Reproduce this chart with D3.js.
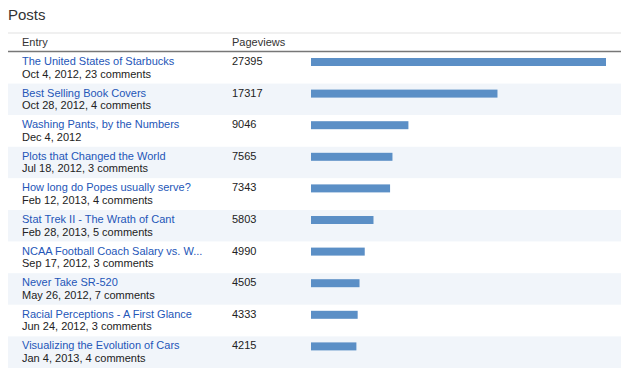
<!DOCTYPE html>
<html>
<head>
<meta charset="utf-8">
<script src="https://cdn.jsdelivr.net/npm/d3@7"></script>
<style>
  body { margin: 0; background: #fff; font-family: "Liberation Sans", Arial, sans-serif; }
  svg text { font-family: "Liberation Sans", Arial, sans-serif; }
</style>
</head>
<body>
<svg id="chart" width="640" height="373"></svg>
<script>
// post data
var titles = [
  "The United States of Starbucks",
  "Best Selling Book Covers",
  "Washing Pants, by the Numbers",
  "Plots that Changed the World",
  "How long do Popes usually serve?",
  "Stat Trek II - The Wrath of Cant",
  "NCAA Football Coach Salary vs. W...",
  "Never Take SR-520",
  "Racial Perceptions - A First Glance",
  "Visualizing the Evolution of Cars"
];
var dates = [
  "Oct 4, 2012", "Oct 28, 2012", "Dec 4, 2012", "Jul 18, 2012", "Feb 12, 2013",
  "Feb 28, 2013", "Sep 17, 2012", "May 26, 2012", "Jun 24, 2012", "Jan 4, 2013"
];
var comments = [23, 4, 0, 3, 4, 5, 3, 7, 3, 4];
var pageviews = [27395, 17317, 9046, 7565, 7343, 5803, 4990, 4505, 4333, 4215];
var headers = ["Entry", "Pageviews"];

var rows = titles.map(function(t, i) {
  return { title: t, date: dates[i], comments: comments[i], views: pageviews[i] };
});

var svg = d3.select("#chart");
var left = 8, right = 621;
var top0 = 52;   // first row top
var rowH = 31.6;

var x = d3.scaleLinear()
  .domain([0, d3.max(pageviews)])
  .range([311, 606]);

var y = d3.scaleBand()
  .domain(d3.range(rows.length))
  .range([top0, top0 + rowH * rows.length])
  .paddingInner(0).paddingOuter(0);

// title
svg.append("text")
  .attr("x", 8).attr("y", 20)
  .style("font-size", "15px")
  .style("fill", "#333")
  .text("Posts");

// header band
svg.append("rect")
  .attr("x", left).attr("y", 32)
  .attr("width", right - left).attr("height", 2)
  .style("fill", "#f0f0f0");

svg.append("text")
  .attr("x", 22).attr("y", 46)
  .style("font-size", "11px").style("fill", "#333")
  .text(headers[0]);
svg.append("text")
  .attr("x", 232).attr("y", 46)
  .style("font-size", "11px").style("fill", "#333")
  .text(headers[1]);

var row = svg.selectAll("g.row")
  .data(rows)
  .enter().append("g")
  .attr("class", "row")
  .attr("transform", function(d, i) { return "translate(0," + y(i) + ")"; });

// zebra stripes
row.append("rect")
  .attr("x", left)
  .attr("width", right - left)
  .attr("height", y.bandwidth())
  .style("fill", function(d, i) { return i % 2 ? "#f1f5fa" : "#fff"; });

row.append("text")
  .attr("x", 22).attr("y", 13)
  .style("font-size", "11px").style("fill", "#2456b8")
  .text(function(d) { return d.title; });

row.append("text")
  .attr("x", 22).attr("y", 25.5)
  .style("font-size", "11px").style("fill", "#222")
  .text(function(d) {
    return d.comments ? d.date + ", " + d.comments + " comments" : d.date;
  });

row.append("text")
  .attr("x", 232).attr("y", 13)
  .style("font-size", "11px").style("fill", "#222")
  .text(function(d) { return d.views; });

row.append("rect")
  .attr("x", x(0))
  .attr("y", 6)
  .attr("height", 8)
  .attr("width", function(d) { return x(d.views) - x(0); })
  .style("fill", "#5b8fc6");

// header separator on top
svg.append("line")
  .attr("x1", left).attr("x2", right)
  .attr("y1", 51.5).attr("y2", 51.5)
  .style("stroke", "#777").style("stroke-width", 1.5);
</script>
</body>
</html>
